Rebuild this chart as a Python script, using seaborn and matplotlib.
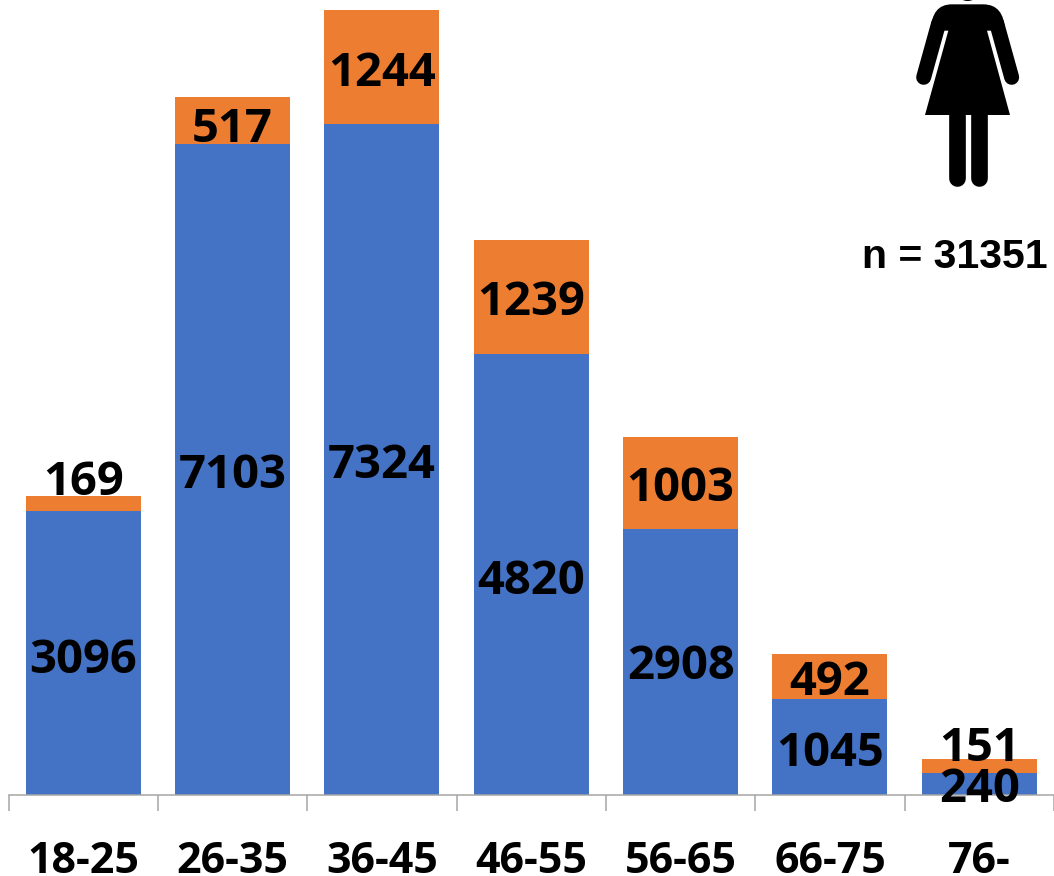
import numpy as np
import pandas as pd
import matplotlib
matplotlib.use('Agg')
import matplotlib.pyplot as plt
import seaborn as sns
from matplotlib.patches import PathPatch, Ellipse
from matplotlib.path import Path
from matplotlib.transforms import Affine2D

age_groups = ['18-25', '26-35', '36-45', '46-55', '56-65', '66-75', '76-']
blue_values = [3096, 7103, 7324, 4820, 2908, 1045, 240]
orange_values = [169, 517, 1244, 1239, 1003, 492, 151]
n_label = 'n = 31351'

BLUE = '#4472C4'
ORANGE = '#ED7D31'
GREY = '#A6A6A6'
BAR_WIDTH = 0.77

# label shifts in pixels, up is positive
orange_nudge = [21, -9, -6, -6, -6, -6, 18]
blue_nudge = [-7, -6, -6, -7, -5, -6, -5]


def px(v):
    # pixels to points at dpi 100
    return v * 72 / 100


def draw_woman(fig):
    # icon, numbers are in a 3x crop starting at x=880
    tr = Affine2D().scale(1 / 3, 1 / 3).translate(880, 0).scale(1, -1).translate(0, 876)
    body = Path(
        [(205, 92), (135, 345), (390, 345), (321, 92), (375, 92),
         (372, 13), (310, 13), (215, 13), (155, 13), (152, 92), (205, 92)],
        [Path.MOVETO, Path.LINETO, Path.LINETO, Path.LINETO, Path.LINETO,
         Path.CURVE3, Path.CURVE3, Path.LINETO, Path.CURVE3, Path.CURVE3, Path.CLOSEPOLY],
    )
    fig.add_artist(PathPatch(body, facecolor='black', edgecolor='none', transform=tr))
    for xs, ys, w in [
        ((176, 131), (70, 232), 45),
        ((350, 395), (70, 232), 45),
        ((230, 230), (345, 535), 50),
        ((297, 297), (345, 535), 50),
    ]:
        line = plt.Line2D(xs, ys, color='black', lw=px(w / 3), solid_capstyle='round', transform=tr)
        fig.add_artist(line)
    fig.add_artist(Ellipse((263, -30), 70, 66, facecolor='black', edgecolor='none', transform=tr))


def main():
    sns.set_theme(style='white')
    plt.rcParams['font.family'] = ['Open Sans', 'DejaVu Sans']

    df = pd.DataFrame({'age': age_groups, 'blue': blue_values, 'orange': orange_values})
    df['total'] = df['blue'] + df['orange']

    fig = plt.figure(figsize=(10.54, 8.76), dpi=100)
    ax = fig.add_axes([8.5 / 1054, (876 - 795) / 876, (1054 - 8.5) / 1054, 795 / 876])

    sns.barplot(data=df, x='age', y='total', color=ORANGE, width=BAR_WIDTH, saturation=1, linewidth=0, ax=ax)
    sns.barplot(data=df, x='age', y='blue', color=BLUE, width=BAR_WIDTH, saturation=1, linewidth=0, ax=ax)

    ax.set_xlim(-0.5, len(age_groups) - 0.5)
    ax.set_ylim(0, 8680)
    ax.set_xlabel('')
    ax.set_ylabel('')
    ax.set_yticks([])

    for side in ['top', 'left', 'right']:
        ax.spines[side].set_visible(False)
    ax.spines['bottom'].set_color(GREY)
    ax.spines['bottom'].set_linewidth(1.1)

    ax.set_xticks(np.arange(len(age_groups) + 1) - 0.5, minor=True)
    ax.tick_params(axis='x', which='minor', bottom=True, length=px(16), width=1.1, color=GREY)
    ax.tick_params(axis='x', which='major', bottom=False, length=0, pad=px(45))
    for lab in ax.get_xticklabels():
        lab.set_fontsize(31)
        lab.set_fontweight('bold')
        lab.set_color('black')

    for i in range(len(df)):
        b = df['blue'][i]
        o = df['orange'][i]
        ax.annotate(str(b), (i, b / 2), xytext=(0, px(blue_nudge[i])), textcoords='offset points',
                    ha='center', va='center', fontsize=34, fontweight='bold', color='black')
        ax.annotate(str(o), (i, b + o / 2), xytext=(0, px(orange_nudge[i])), textcoords='offset points',
                    ha='center', va='center', fontsize=34, fontweight='bold', color='black')

    fig.text(1048 / 1054, 1 - 257 / 876, n_label, ha='right', va='center', fontsize=29.5,
             fontweight='bold', family='Liberation Sans', color='black')

    draw_woman(fig)
    fig.savefig('out.png', dpi=100)


if __name__ == '__main__':
    main()
